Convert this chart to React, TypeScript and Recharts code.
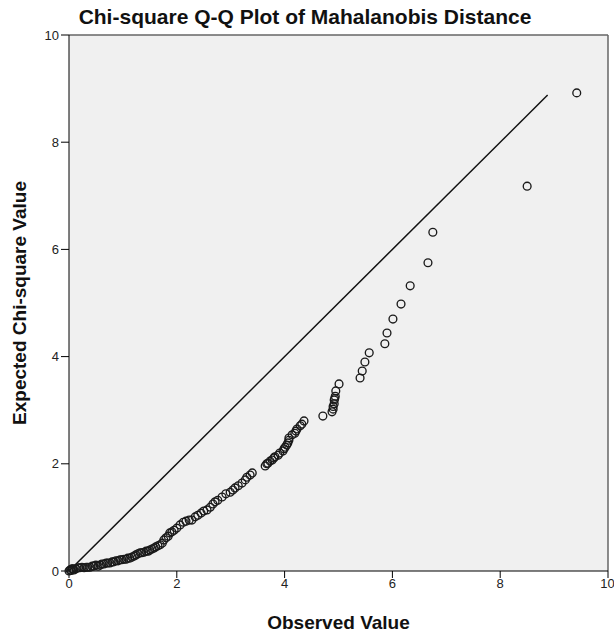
import React from 'react';
import {
  ScatterChart,
  Scatter,
  XAxis,
  YAxis,
  CartesianGrid,
  ReferenceLine,
} from 'recharts';

// observed Mahalanobis distances (sorted) and the matching expected chi-square quantiles
const observed = [
  0, 0.02, 0.04, 0.06, 0.07, 0.09, 0.13, 0.17, 0.2, 0.24, 0.28, 0.32, 0.35, 0.39, 0.43, 0.46,
  0.5, 0.54, 0.58, 0.61, 0.65, 0.69, 0.72, 0.76, 0.8, 0.83, 0.87, 0.91, 0.95, 0.98, 1.02, 1.06,
  1.09, 1.13, 1.17, 1.21, 1.24, 1.28, 1.32, 1.35, 1.39, 1.43, 1.47, 1.5, 1.54, 1.58, 1.61, 1.65,
  1.69, 1.73, 1.76, 1.8, 1.84, 1.87, 1.91, 1.95, 2.0, 2.06, 2.12, 2.17, 2.23, 2.28, 2.34, 2.39,
  2.45, 2.5, 2.56, 2.62, 2.67, 2.71, 2.76, 2.84, 2.91, 2.99, 3.04, 3.08, 3.14, 3.21, 3.27, 3.3,
  3.36, 3.4, 3.64, 3.67, 3.69, 3.73, 3.77, 3.8, 3.82, 3.88, 3.91, 3.97, 3.99, 4.01, 4.04, 4.06,
  4.08, 4.08, 4.14, 4.19, 4.21, 4.23, 4.29, 4.32, 4.36, 4.71, 4.88, 4.9, 4.9, 4.92, 4.92, 4.93,
  4.94, 4.95, 5.01, 5.4, 5.44, 5.49, 5.57, 5.86, 5.9, 6.01, 6.16, 6.33, 6.66, 6.75, 8.5, 9.42,
];
const expected = [
  0, 0.02, 0.01, 0.04, 0.04, 0.02, 0.04, 0.06, 0.06, 0.07, 0.06, 0.07, 0.07, 0.07, 0.09, 0.09,
  0.11, 0.09, 0.11, 0.13, 0.13, 0.15, 0.15, 0.15, 0.17, 0.17, 0.19, 0.19, 0.21, 0.21, 0.22, 0.22,
  0.24, 0.24, 0.26, 0.28, 0.3, 0.32, 0.34, 0.34, 0.35, 0.37, 0.37, 0.39, 0.41, 0.43, 0.45, 0.47,
  0.49, 0.52, 0.58, 0.62, 0.65, 0.71, 0.73, 0.76, 0.8, 0.86, 0.91, 0.93, 0.95, 0.95, 1.01, 1.04,
  1.08, 1.12, 1.14, 1.19, 1.25, 1.29, 1.32, 1.38, 1.44, 1.47, 1.51, 1.55, 1.59, 1.64, 1.7, 1.75,
  1.79, 1.83, 1.96, 2.0, 2.01, 2.05, 2.07, 2.11, 2.13, 2.16, 2.2, 2.24, 2.28, 2.31, 2.35, 2.39,
  2.44, 2.48, 2.54, 2.57, 2.61, 2.65, 2.71, 2.74, 2.8, 2.89, 2.97, 3.02, 3.07, 3.12, 3.19, 3.22,
  3.26, 3.36, 3.49, 3.6, 3.73, 3.9, 4.07, 4.24, 4.44, 4.7, 4.98, 5.32, 5.75, 6.32, 7.18, 8.92,
];
const ticks = [0, 2, 4, 6, 8, 10];
const lineEnd = 8.88;

const data = observed.map((x, i) => ({ x, y: expected[i] }));

const FONT = '"Liberation Sans", Arial, sans-serif';

const Ring = (props: any) => (
  <circle cx={props.cx} cy={props.cy} r={3.9} fill="none" stroke="#1a1a1a" strokeWidth={1.35} />
);

export default function App() {
  return (
    <div style={{ position: 'absolute', left: 0, top: 0, width: 614, height: 634, background: '#fff', fontFamily: FONT }}>
      <div
        style={{
          position: 'absolute',
          left: 0,
          width: 610,
          top: 5,
          textAlign: 'center',
          fontWeight: 'bold',
          fontSize: 21,
          color: '#111',
        }}
      >
        Chi-square Q-Q Plot of Mahalanobis Distance
      </div>
      <ScatterChart width={614} height={634} margin={{ top: 35, right: 6, bottom: 0, left: 0 }}>
        <CartesianGrid horizontal={false} vertical={false} fill="#f0f0f0" />
        <XAxis
          type="number"
          dataKey="x"
          domain={[0, 10]}
          ticks={ticks}
          height={63}
          tickSize={7}
          tickMargin={1}
          stroke="#000"
          tick={{ fill: '#222', fontSize: 13, fontFamily: FONT }}
          label={{
            value: 'Observed Value',
            position: 'insideBottom',
            offset: 5,
            style: { fontWeight: 'bold', fontSize: 19, fill: '#111', fontFamily: FONT },
          }}
        />
        <YAxis
          type="number"
          dataKey="y"
          domain={[0, 10]}
          ticks={ticks}
          width={69}
          tickSize={8}
          tickMargin={2}
          stroke="#000"
          tick={{ fill: '#222', fontSize: 13, fontFamily: FONT }}
          label={{
            value: 'Expected Chi-square Value',
            angle: -90,
            position: 'insideLeft',
            offset: 19,
            style: { textAnchor: 'middle', fontWeight: 'bold', fontSize: 19, fill: '#111', fontFamily: FONT },
          }}
        />
        <ReferenceLine y={10} stroke="#666" strokeWidth={1.5} />
        <ReferenceLine x={10} stroke="#666" strokeWidth={1.5} />
        <ReferenceLine
          segment={[
            { x: 0, y: 0 },
            { x: lineEnd, y: lineEnd },
          ]}
          stroke="#111"
          strokeWidth={1.5}
        />
        <Scatter data={data} shape={Ring} isAnimationActive={false} />
      </ScatterChart>
    </div>
  );
}
